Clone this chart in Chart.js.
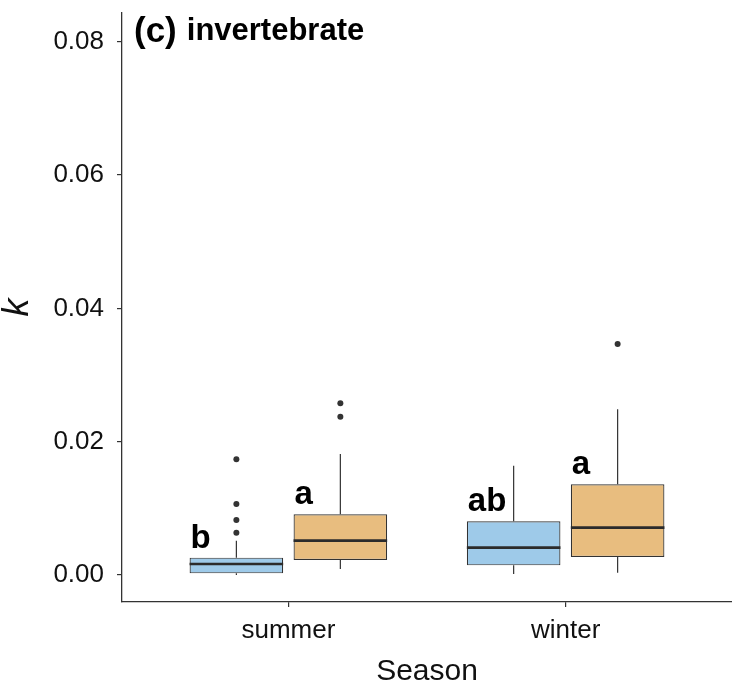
<!DOCTYPE html>
<html>
<head>
<meta charset="utf-8">
<script src="https://cdn.jsdelivr.net/npm/chart.js@4.4.1/dist/chart.umd.min.js"></script>
<style>
	body { margin: 0; background: #fff; }
	#wrap { width: 732px; height: 685px; }
</style>
</head>
<body>
<div id="wrap"><canvas id="kChart"></canvas></div>
<script>
// (c) invertebrate - k by season

const seasons = ["summer", "winter"];
const seasonPos = [1, 2];
const yTicks = [0, 0.02, 0.04, 0.06, 0.08];

// blue boxes
const blueLo = [0.0, 0.00015];
const blueQ1 = [0.00025, 0.00145];
const blueMed = [0.00165, 0.0041];
const blueQ3 = [0.0026, 0.00805];
const blueHi = [0.00515, 0.0164];
const blueOut = [[0.00635, 0.00825, 0.01065, 0.01735], []];
const blueLetters = ["b", "ab"];

// orange boxes
const orangeLo = [0.0009, 0.00035];
const orangeQ1 = [0.00225, 0.0027];
const orangeMed = [0.00515, 0.0071];
const orangeQ3 = [0.0091, 0.0136];
const orangeHi = [0.01815, 0.02485];
const orangeOut = [[0.02375, 0.02575], [0.03465]];
const orangeLetters = ["a", "a"];

const lineCol = "#333333";
const fontName = "'Liberation Sans', Arial, Helvetica, sans-serif";

const boxStats = [
	{ lo: blueLo, q1: blueQ1, med: blueMed, q3: blueQ3, hi: blueHi, out: blueOut, letters: blueLetters },
	{ lo: orangeLo, q1: orangeQ1, med: orangeMed, q3: orangeQ3, hi: orangeHi, out: orangeOut, letters: orangeLetters },
];

function boxData(q1, q3) {
	return seasonPos.map((x, i) => ({ x: x, y: [q1[i], q3[i]] }));
}

// whiskers, medians, outliers and letters drawn on top of the bar elements
const boxPlugin = {
	id: "boxExtras",
	beforeDatasetsDraw(chart) {
		const ctx = chart.ctx;
		const y = chart.scales.y;
		ctx.save();
		ctx.strokeStyle = lineCol;
		ctx.lineWidth = 1.2;
		boxStats.forEach((s, d) => {
			chart.getDatasetMeta(d).data.forEach((el, i) => {
				ctx.beginPath();
				ctx.moveTo(el.x, y.getPixelForValue(s.q3[i]));
				ctx.lineTo(el.x, y.getPixelForValue(s.hi[i]));
				ctx.moveTo(el.x, y.getPixelForValue(s.q1[i]));
				ctx.lineTo(el.x, y.getPixelForValue(s.lo[i]));
				ctx.stroke();
			});
		});
		ctx.restore();
	},
	afterDatasetsDraw(chart) {
		const ctx = chart.ctx;
		const y = chart.scales.y;
		ctx.save();
		boxStats.forEach((s, d) => {
			chart.getDatasetMeta(d).data.forEach((el, i) => {
				const left = el.x - el.width / 2;
				// median
				ctx.strokeStyle = "#2b2b2b";
				ctx.lineWidth = 2.6;
				ctx.beginPath();
				ctx.moveTo(left, y.getPixelForValue(s.med[i]));
				ctx.lineTo(left + el.width, y.getPixelForValue(s.med[i]));
				ctx.stroke();
				// outliers
				ctx.fillStyle = lineCol;
				s.out[i].forEach((v) => {
					ctx.beginPath();
					ctx.arc(el.x, y.getPixelForValue(v), 3, 0, Math.PI * 2);
					ctx.fill();
				});
				// significance letters
				ctx.fillStyle = "#000";
				ctx.font = "bold 33px " + fontName;
				ctx.textAlign = "left";
				ctx.textBaseline = "alphabetic";
				ctx.fillText(s.letters[i], left + 1, y.getPixelForValue(s.q3[i]) - 10);
			});
		});
		// panel title
		ctx.fillStyle = "#000";
		ctx.textBaseline = "alphabetic";
		ctx.font = "bold 35px " + fontName;
		ctx.fillText("(c)", 134, 42);
		const w = ctx.measureText("(c)").width;
		ctx.font = "bold 31px " + fontName;
		ctx.fillText("invertebrate", 134 + w + 10, 40);
		ctx.restore();
	},
};

const kData = {
	datasets: [
		{
			data: boxData(blueQ1, blueQ3),
			backgroundColor: "#9ecae9",
			borderColor: lineCol,
			borderWidth: 1.2,
			borderSkipped: false,
		},
		{
			data: boxData(orangeQ1, orangeQ3),
			backgroundColor: "#e8bd7f",
			borderColor: lineCol,
			borderWidth: 1.2,
			borderSkipped: false,
		},
	],
};

const kConfig = {
	type: "bar",
	data: kData,
	plugins: [boxPlugin],
	options: {
		responsive: true,
		maintainAspectRatio: false,
		animation: false,
		categoryPercentage: 0.75,
		barPercentage: 0.9,
		layout: { padding: { top: 13, right: 0, left: 0, bottom: 0 } },
		plugins: {
			legend: { display: false },
			tooltip: { enabled: false },
		},
		scales: {
			x: {
				type: "linear",
				offset: false,
				min: 0.4,
				max: 2.6,
				afterBuildTicks: (scale) => {
					scale.ticks = seasonPos.map((v) => ({ value: v }));
				},
				afterFit: (scale) => {
					scale.height = 83;
					scale.paddingLeft = 0;
					scale.paddingRight = 0;
				},
				ticks: {
					callback: (v) => seasons[seasonPos.indexOf(v)],
					color: "#111",
					font: { family: fontName, size: 26 },
					padding: 8,
					maxRotation: 0,
				},
				grid: { offset: false, drawOnChartArea: false, drawTicks: true, tickLength: 5, color: lineCol, lineWidth: 1.2 },
				border: { display: true, color: lineCol, width: 1.3 },
				title: {
					display: true,
					text: "Season",
					color: "#111",
					font: { family: fontName, size: 30, lineHeight: 1 },
					padding: { top: 0, bottom: -2 },
				},
			},
			y: {
				min: -0.00405,
				max: 0.0843,
				afterBuildTicks: (scale) => {
					scale.ticks = yTicks.map((v) => ({ value: v }));
				},
				afterFit: (scale) => {
					scale.width = 122;
					scale.paddingTop = 0;
					scale.paddingBottom = 0;
				},
				ticks: {
					callback: (v) => v.toFixed(2),
					color: "#111",
					font: { family: fontName, size: 26 },
					padding: 13,
				},
				grid: { drawOnChartArea: false, drawTicks: true, tickLength: 5, color: lineCol, lineWidth: 1.2 },
				border: { display: true, color: lineCol, width: 1.3 },
				title: {
					display: true,
					text: "k",
					color: "#111",
					font: { family: fontName, size: 36, style: "italic", lineHeight: 1 },
					padding: { top: 0, bottom: 0 },
				},
			},
		},
	},
};

const kChart = new Chart(document.getElementById("kChart"), kConfig);
</script>
</body>
</html>
